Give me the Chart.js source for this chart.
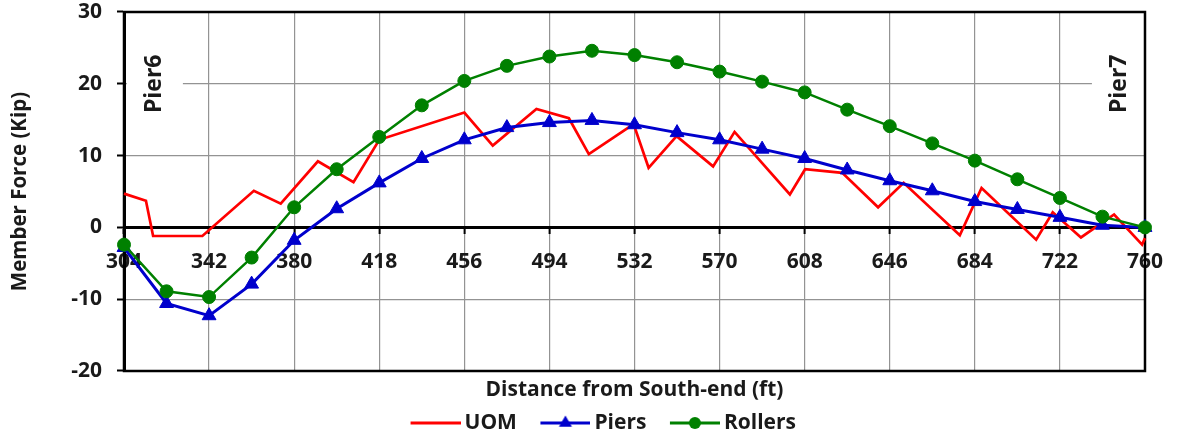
<!DOCTYPE html>
<html><head><meta charset="utf-8">
<script src="https://cdn.jsdelivr.net/npm/chart.js@4.4.1/dist/chart.umd.min.js"></script>
<style>html,body{margin:0;padding:0;background:#fff;}#wrap{width:1180px;height:437px;}</style>
</head><body><div id="wrap"><canvas id="c" width="1180" height="437"></canvas></div>
<script>
// ---- data ----
const seriesNames = ['UOM', 'Piers', 'Rollers'];
const stations = [304,323,342,361,380,399,418,437,456,475,494,513,532,551,570,589,608,627,646,665,684,703,722,741,760];
const piersForce = [-2.8,-10.6,-12.3,-7.9,-1.8,2.6,6.2,9.6,12.2,13.9,14.6,14.9,14.3,13.2,12.2,10.9,9.6,8.0,6.5,5.1,3.6,2.5,1.4,0.3,0.0];
const rollersForce = [-2.4,-8.9,-9.7,-4.2,2.8,8.1,12.6,17.0,20.4,22.5,23.8,24.6,24.0,23.0,21.7,20.3,18.8,16.4,14.1,11.7,9.3,6.7,4.1,1.5,0.0];
const uomDistance = [304,313.8,317,339,362,374,390.6,406.5,418,456,468.7,488.2,502.7,511.6,531.6,538.3,550.8,567.1,576.7,601.4,608.2,624.8,640.8,652.2,677.3,687,711.4,718.8,731.4,746.2,758.7,760];
const uomForce = [4.7,3.7,-1.2,-1.2,5.1,3.3,9.2,6.3,12.2,16.0,11.4,16.5,15.2,10.2,14.4,8.3,12.7,8.5,13.3,4.6,8.1,7.6,2.8,6.2,-1.1,5.5,-1.7,2.1,-1.4,1.8,-2.4,-1.5];
const xMin = 304, xMax = 760, xStep = 38;
const yMin = -20, yMax = 30, yStep = 10;
const pierNotes = [{text: 'Pier6', x: 317.8, y: 20}, {text: 'Pier7', x: 748.8, y: 20}];
const xTitle = 'Distance from South-end (ft)';
const yTitle = 'Member Force (Kip)';

// ---- styles ----
const RED = '#ff0000', BLUE = '#0000cc', GREEN = '#008000';
const TXT = '#1a1a1a';
const FONT = '"Open Sans"';

function legendIcon(color, style) {
  const cv = document.createElement('canvas');
  cv.width = 74; cv.height = 18;
  const c = cv.getContext('2d');
  c.strokeStyle = color; c.fillStyle = color; c.lineWidth = 3;
  c.beginPath(); c.moveTo(24, 9); c.lineTo(74, 9); c.stroke();
  const cx = 49, cy = 9;
  if (style === 'triangle') {
    const r = 7.5;
    c.beginPath();
    c.moveTo(cx, cy - r);
    c.lineTo(cx + r * Math.sin(2 * Math.PI / 3), cy - r * Math.cos(2 * Math.PI / 3));
    c.lineTo(cx + r * Math.sin(4 * Math.PI / 3), cy - r * Math.cos(4 * Math.PI / 3));
    c.closePath(); c.fill();
  } else if (style === 'circle') {
    c.beginPath(); c.arc(cx, cy, 6, 0, Math.PI * 2); c.fill();
  }
  return cv;
}

const framePlugin = {
  id: 'frameAndNotes',
  beforeDatasetsDraw(chart) {
    const {ctx, chartArea: a, scales} = chart;
    ctx.save();
    ctx.font = 'bold 23px ' + FONT;
    pierNotes.forEach(n => {
      const px = scales.x.getPixelForValue(n.x);
      const py = scales.y.getPixelForValue(n.y);
      ctx.fillStyle = '#fff';
      ctx.fillRect(px - 28, py - 42, 56, 84);
      ctx.save();
      ctx.translate(px, py);
      ctx.rotate(-Math.PI / 2);
      ctx.fillStyle = TXT;
      ctx.textAlign = 'center';
      ctx.textBaseline = 'middle';
      ctx.fillText(n.text, 0, 0);
      ctx.restore();
    });
    ctx.strokeStyle = '#000';
    ctx.lineWidth = 2.5;
    ctx.strokeRect(a.left, a.top, a.right - a.left, a.bottom - a.top);
    ctx.restore();
  }
};

function draw() {
  const icons = [legendIcon(RED, 'none'), legendIcon(BLUE, 'triangle'), legendIcon(GREEN, 'circle')];
  new Chart(document.getElementById('c'), {
    type: 'line',
    data: {
      datasets: [
        {label: seriesNames[0], data: uomDistance.map((d, i) => ({x: d, y: uomForce[i]})),
         borderColor: RED, backgroundColor: RED, borderWidth: 2.7, pointRadius: 0, order: 3, clip: false},
        {label: seriesNames[1], data: stations.map((d, i) => ({x: d, y: piersForce[i]})),
         borderColor: BLUE, backgroundColor: BLUE, borderWidth: 3, pointStyle: 'triangle', pointRadius: 8,
         pointBorderWidth: 1, order: 2, clip: false},
        {label: seriesNames[2], data: stations.map((d, i) => ({x: d, y: rollersForce[i]})),
         borderColor: GREEN, backgroundColor: GREEN, borderWidth: 2.5, pointStyle: 'circle', pointRadius: 6.5,
         pointBorderWidth: 1, order: 1, clip: false}
      ]
    },
    options: {
      responsive: false,
      animation: false,
      devicePixelRatio: 1,
      layout: {padding: {left: 38, right: 29, top: 12, bottom: -6.5}},
      scales: {
        x: {
          type: 'linear', min: xMin, max: xMax, position: {y: 0},
          ticks: {stepSize: xStep, color: TXT, font: {family: FONT, size: 21, weight: 'bold'}, padding: 17, maxRotation: 0},
          grid: {color: '#939393', lineWidth: 1.2, tickColor: '#000', tickLength: 5, tickWidth: 2},
          border: {color: '#000', width: 3}
        },
        y: {
          min: yMin, max: yMax,
          afterFit(s) { s.width = 86; },
          ticks: {stepSize: yStep, color: TXT, font: {family: FONT, size: 21, weight: 'bold', lineHeight: 0.05}, padding: 11},
          grid: {color: '#939393', lineWidth: 1.2, tickColor: '#000', tickLength: 11, tickWidth: 2,
                 tickBorderDash: [0, 4, 9, 60]},
          border: {color: '#000', width: 3},
          title: {display: true, text: yTitle, color: TXT, font: {family: FONT, size: 20.5, weight: 'bold'}, padding: {top: -30.3, bottom: 0}}
        }
      },
      plugins: {
        tooltip: {enabled: false},
        title: {display: true, position: 'bottom', text: xTitle, fullSize: false, weight: 500, color: TXT,
                font: {family: FONT, size: 21, weight: 'bold'}, padding: {top: 6.4, bottom: 3.9}},
        legend: {
          position: 'bottom', fullSize: true,
          labels: {
            usePointStyle: true, pointStyleWidth: 61, padding: 6, color: TXT,
            font: {family: FONT, size: 21, weight: 'bold'},
            generateLabels(chart) {
              return chart.data.datasets.map((ds, i) => ({
                text: ds.label, pointStyle: icons[i], datasetIndex: i, hidden: false,
                fontColor: TXT, lineWidth: 0, strokeStyle: 'rgba(0,0,0,0)', fillStyle: 'rgba(0,0,0,0)'
              }));
            }
          }
        }
      }
    },
    plugins: [framePlugin]
  });
}
(document.fonts && document.fonts.load ? Promise.all([document.fonts.load('bold 21px "Open Sans"')]).catch(() => {}) : Promise.resolve()).then(draw);
</script></body></html>
